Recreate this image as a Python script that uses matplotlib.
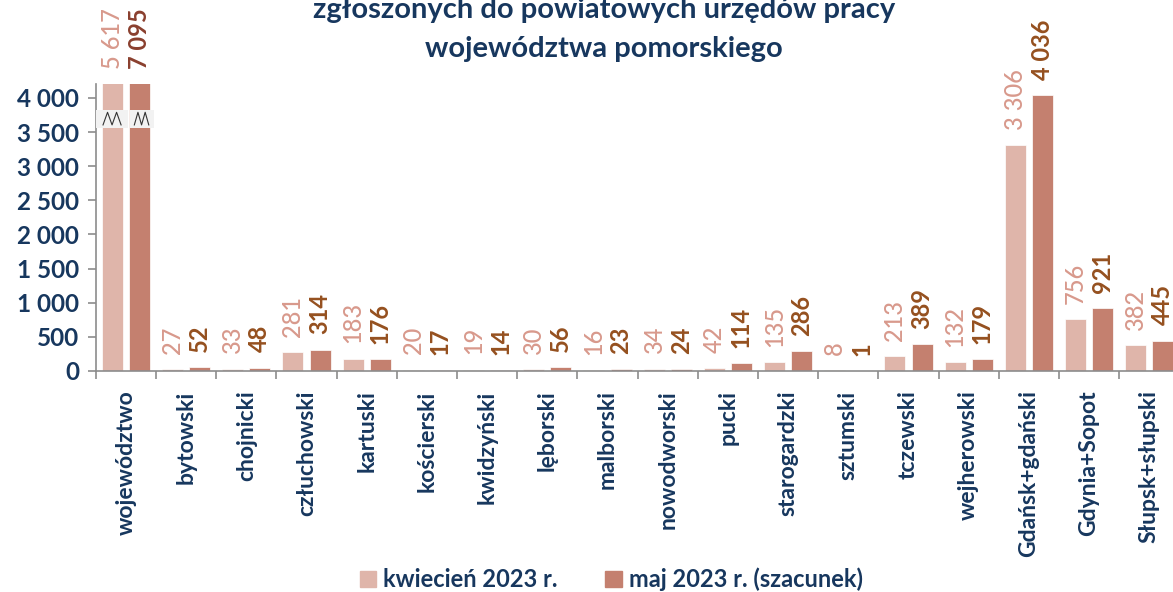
import numpy as np
import matplotlib.pyplot as plt
from matplotlib.patches import Rectangle, Patch

plt.rcParams['font.family'] = ['Lato', 'DejaVu Sans']

categories = ['województwo', 'bytowski', 'chojnicki', 'człuchowski', 'kartuski',
              'kościerski', 'kwidzyński', 'lęborski', 'malborski', 'nowodworski',
              'pucki', 'starogardzki', 'sztumski', 'tczewski', 'wejherowski',
              'Gdańsk+gdański', 'Gdynia+Sopot', 'Słupsk+słupski']
kwiecien = [5617, 27, 33, 281, 183, 20, 19, 30, 16, 34, 42, 135, 8, 213, 132, 3306, 756, 382]
maj = [7095, 52, 48, 314, 176, 17, 14, 56, 23, 24, 114, 286, 1, 389, 179, 4036, 921, 445]
yticks = [0, 500, 1000, 1500, 2000, 2500, 3000, 3500, 4000]

navy = '#17375E'
c_light = '#DFB5AA'
c_dark = '#C4806F'
lab_light = '#D8998C'
lab_dark = '#95501F'

fig = plt.figure(figsize=(11.73, 5.92), dpi=100)
ax = fig.add_axes([95.8 / 1173, 1 - 371 / 592, (18 * 60.2) / 1173, (371 - 84.3) / 592])

x = np.arange(len(categories))
w = 0.35
off = 0.225
ymax = 4200
ax.bar(x - off, kwiecien, w, color=c_light, edgecolor='white', linewidth=0.5)
ax.bar(x + off, maj, w, color=c_dark, edgecolor='white', linewidth=0.5)

ax.set_ylim(0, ymax)
ax.set_xlim(-0.5, len(categories) - 0.5)

# data labels
for i in range(len(categories)):
    for val, dx, col, fw in [(kwiecien[i], -off, lab_light, 'medium'),
                             (maj[i], off, lab_dark, 'bold')]:
        txt = f"{val:,}".replace(',', ' ')
        c = col
        if i == 0 and fw == 'bold':
            c = '#8A3F2E'
        ax.annotate(txt, (x[i] + dx, min(val, ymax)), xytext=(0, 11), textcoords='offset points',
                    rotation=90, ha='center', va='bottom', fontsize=17, color=c,
                    fontweight=fw, annotation_clip=False)

# axis break marks on the first pair of bars
for dx, bw, zw in [(-0.23, 0.53, 0.15), (0.26, 0.4, 0.12)]:
    cx = x[0] + dx
    ax.add_patch(Rectangle((cx - bw / 2, 3560), bw, 264, facecolor='#F2F2F2',
                           edgecolor='none', zorder=3, clip_on=False))
    zx = cx + np.linspace(-zw, zw, 5)
    zy = [3605, 3790, 3605, 3790, 3605]
    ax.plot(zx, zy, color='#333333', lw=0.8, zorder=4)

ax.set_yticks(yticks)
ax.set_yticklabels([f"{v:,}".replace(',', ' ') for v in yticks], fontsize=17.5,
                   fontweight='bold', color=navy)
ax.set_xticks(np.arange(-0.5, len(categories), 1.0))
ax.set_xticklabels([])
ax.set_xticks(x, minor=True)
ax.set_xticklabels(categories, minor=True, rotation=90, fontsize=16.5, fontweight='bold',
                   color=navy, va='top')
ax.tick_params(axis='x', which='minor', length=0, pad=14)
ax.tick_params(axis='x', which='major', length=6, color='#8C8C8C', width=1.2)
ax.tick_params(axis='y', length=6, color='#8C8C8C', width=1.2, pad=6)

for s in ['top', 'right']:
    ax.spines[s].set_visible(False)
for s in ['left', 'bottom']:
    ax.spines[s].set_color('#8C8C8C')
    ax.spines[s].set_linewidth(1.2)

fig.text(0.515, 1 - 18 / 592, 'zgłoszonych do powiatowych urzędów pracy',
         ha='center', va='baseline', fontsize=21, fontweight='bold', color=navy)
fig.text(0.515, 1 - 57 / 592, 'województwa pomorskiego',
         ha='center', va='baseline', fontsize=21, fontweight='bold', color=navy)

handles = [Patch(color=c_light, label='kwiecień 2023 r.'),
           Patch(color=c_dark, label='maj 2023 r. (szacunek)')]
leg = fig.legend(handles=handles, loc='lower center', bbox_to_anchor=(0.521, -0.035), ncol=2,
                 frameon=False, handlelength=0.7, handleheight=0.7, handletextpad=0.3,
                 columnspacing=2.0, prop={'size': 17, 'weight': 'bold'})
for t in leg.get_texts():
    t.set_color(navy)

fig.savefig('out.png', dpi=100)
